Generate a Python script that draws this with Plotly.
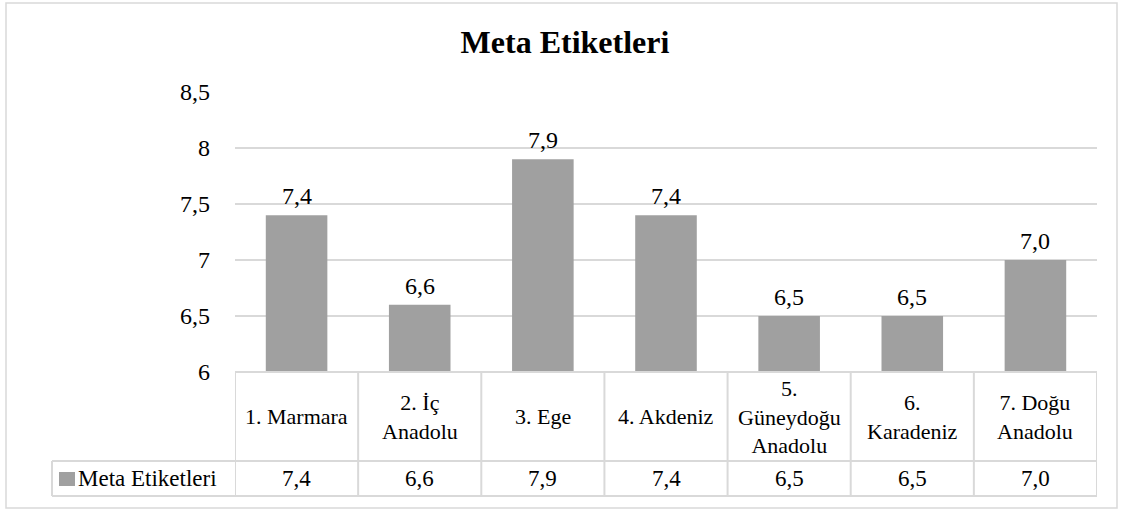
import plotly.graph_objects as go

# ---- data ----
categories = ["1. Marmara", "2. İç Anadolu", "3. Ege", "4. Akdeniz",
              "5. Güneydoğu Anadolu", "6. Karadeniz", "7. Doğu Anadolu"]
category_labels = ["1. Marmara", "2. İç<br>Anadolu", "3. Ege", "4. Akdeniz",
                   "5.<br>Güneydoğu<br>Anadolu", "6.<br>Karadeniz", "7. Doğu<br>Anadolu"]
values = [7.4, 6.6, 7.9, 7.4, 6.5, 6.5, 7.0]
series_name = "Meta Etiketleri"
title_text = "Meta Etiketleri"
tick_vals = [6, 6.5, 7, 7.5, 8, 8.5]
tick_text = ["6", "6,5", "7", "7,5", "8", "8,5"]

# ---- layout geometry (pixels) ----
W, H = 1130, 511
L, R, T, B = 235, 1097, 92, 372
FONT = "Liberation Serif, Times New Roman, serif"
GRID = "#d9d9d9"
BAR = "#a0a0a0"


def px(xp):
    return (xp - L) / (R - L)


def py(yp):
    return (B - yp) / (B - T)


def fmt(v):
    return f"{v:.1f}".replace(".", ",")


fig = go.Figure()
fig.add_trace(go.Bar(
    x=categories, y=values, width=0.5, marker=dict(color=BAR, line=dict(width=0)),
    name=series_name, showlegend=False, hoverinfo="skip"))

shapes = []
# outer chart border
shapes.append(dict(type="rect", xref="paper", yref="paper",
                   x0=px(6), x1=px(1117), y0=py(508), y1=py(3),
                   line=dict(color=GRID, width=1.5), fillcolor="rgba(0,0,0,0)", layer="below"))
# data table lines
row1, row2 = 461, 496
tline = dict(color=GRID, width=2)
shapes.append(dict(type="line", xref="paper", yref="paper", x0=0, x1=1, y0=py(B), y1=py(B), line=tline))
shapes.append(dict(type="line", xref="paper", yref="paper", x0=px(52), x1=1, y0=py(row1), y1=py(row1), line=tline))
shapes.append(dict(type="line", xref="paper", yref="paper", x0=px(52), x1=1, y0=py(row2), y1=py(row2), line=tline))
shapes.append(dict(type="line", xref="paper", yref="paper", x0=px(52), x1=px(52), y0=py(row1), y1=py(row2), line=tline))
for i in range(len(categories) + 1):
    shapes.append(dict(type="line", xref="x", yref="paper", x0=i - 0.5, x1=i - 0.5,
                       y0=py(B), y1=py(row2), line=tline))
# legend key
shapes.append(dict(type="rect", xref="paper", yref="paper", x0=px(59), x1=px(75),
                   y0=py(486), y1=py(472), line=dict(width=0), fillcolor=BAR))

annotations = []
for i, (c, lab) in enumerate(zip(categories, category_labels)):
    # data label above bar
    annotations.append(dict(xref="x", yref="y", x=c, y=values[i], text=fmt(values[i]),
                            showarrow=False, xanchor="center", yanchor="bottom", yshift=4,
                            font=dict(family=FONT, size=24, color="#000000")))
    # table: category cell
    annotations.append(dict(xref="x", yref="paper", x=c, y=py((B + row1) / 2), text=lab,
                            showarrow=False, xanchor="center", yanchor="middle",
                            font=dict(family=FONT, size=22, color="#000000")))
    # table: value cell
    annotations.append(dict(xref="x", yref="paper", x=c, y=py((row1 + row2) / 2),
                            text=fmt(values[i]),
                            showarrow=False, xanchor="center", yanchor="middle",
                            font=dict(family=FONT, size=23, color="#000000")))
annotations.append(dict(xref="paper", yref="paper", x=px(76), y=py((row1 + row2) / 2),
                        text=series_name, showarrow=False, xanchor="left", yanchor="middle",
                        font=dict(family=FONT, size=23, color="#000000")))

fig.update_layout(
    width=W, height=H,
    margin=dict(l=L, r=W - R, t=T, b=H - B, pad=0),
    paper_bgcolor="white", plot_bgcolor="white",
    separators=", ",
    title=dict(text=title_text, x=0.5, xref="container", xanchor="center",
               y=1 - 42 / H, yref="container", yanchor="middle",
               font=dict(family=FONT, size=32, color="#000000", weight="bold")),
    xaxis=dict(type="category", range=[-0.5, len(categories) - 0.5], showticklabels=False,
               showgrid=False, zeroline=False, showline=False, ticks=""),
    yaxis=dict(range=[6, 8.5], tickvals=tick_vals, ticktext=tick_text, showgrid=True,
               gridcolor=GRID, gridwidth=1.5, zeroline=False, showline=False, ticks="",
               ticklabelstandoff=24,
               tickfont=dict(family=FONT, size=24, color="#000000")),
    shapes=shapes, annotations=annotations,
    bargap=0.5,
)

fig.write_html("out.html", config={"displayModeBar": False},
               post_script="document.body.style.margin='0';document.body.style.overflow='hidden';")
